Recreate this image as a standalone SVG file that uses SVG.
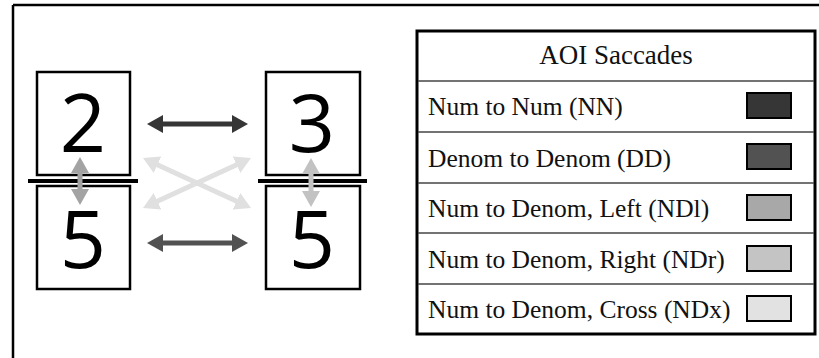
<svg xmlns="http://www.w3.org/2000/svg" width="819" height="358" viewBox="0 0 819 358">
<style>
.box{fill:#fff;stroke:#000;stroke-width:2.5}
.bar{stroke:#000;stroke-width:4}
.digit{font-family:"Open Sans","Noto Sans",sans-serif;font-size:81px;fill:#000;text-anchor:middle}
.lbl{font-family:"Liberation Serif","Times New Roman",serif;font-size:25.5px;fill:#111}
.hdr{font-family:"Liberation Serif","Times New Roman",serif;font-size:27px;fill:#111;text-anchor:middle}
.sep{stroke:#444;stroke-width:1.5}
.sw{stroke:#000;stroke-width:2}
.arr{stroke-width:5;fill:none}
</style>
<defs>
<marker id="mNN" markerUnits="userSpaceOnUse" markerWidth="16" markerHeight="18" refX="2" refY="9" orient="auto-start-reverse"><path d="M0,0 L16,9 L0,18 z" fill="#363636"/></marker>
<marker id="mDD" markerUnits="userSpaceOnUse" markerWidth="16" markerHeight="18" refX="2" refY="9" orient="auto-start-reverse"><path d="M0,0 L16,9 L0,18 z" fill="#525252"/></marker>
<marker id="mNDl" markerUnits="userSpaceOnUse" markerWidth="16" markerHeight="18" refX="2" refY="9" orient="auto-start-reverse"><path d="M0,0 L16,9 L0,18 z" fill="#a3a3a3"/></marker>
<marker id="mNDr" markerUnits="userSpaceOnUse" markerWidth="16" markerHeight="18" refX="2" refY="9" orient="auto-start-reverse"><path d="M0,0 L16,9 L0,18 z" fill="#c2c2c2"/></marker>
<marker id="mNDx" markerUnits="userSpaceOnUse" markerWidth="16" markerHeight="18" refX="2" refY="9" orient="auto-start-reverse"><path d="M0,0 L16,9 L0,18 z" fill="#e0e0e0"/></marker>
</defs>
<rect width="819" height="358" fill="#fff"/>
<g id="frame" stroke="#000" stroke-width="2.5">
<line x1="13" y1="5" x2="819" y2="5"/>
<line x1="13" y1="5" x2="13" y2="358"/>
</g>
<g id="num-left"><rect class="box" x="37" y="72" width="93" height="103"/><text class="digit" x="83" y="152">2</text></g>
<g id="den-left"><rect class="box" x="37" y="186" width="93" height="103"/><text class="digit" x="83" y="268">5</text></g>
<g id="bar-left"><line class="bar" x1="28" y1="181" x2="138" y2="181"/></g>
<g id="num-right"><rect class="box" x="266" y="72" width="94" height="103"/><text class="digit" x="312" y="152">3</text></g>
<g id="den-right"><rect class="box" x="266" y="186" width="94" height="103"/><text class="digit" x="312" y="268">5</text></g>
<g id="bar-right"><line class="bar" x1="258" y1="181" x2="367" y2="181"/></g>
<g id="connectors">
<line class="arr" stroke="#e0e0e0" x1="155.7" y1="163.9" x2="238.3" y2="202.1" marker-start="url(#mNDx)" marker-end="url(#mNDx)"/>
<line class="arr" stroke="#e0e0e0" x1="155.7" y1="202.1" x2="238.3" y2="163.9" marker-start="url(#mNDx)" marker-end="url(#mNDx)"/>
<line class="arr" stroke="#363636" x1="161" y1="124" x2="234" y2="124" marker-start="url(#mNN)" marker-end="url(#mNN)"/>
<line class="arr" stroke="#525252" x1="161" y1="243" x2="234" y2="243" marker-start="url(#mDD)" marker-end="url(#mDD)"/>
<line class="arr" stroke="#a3a3a3" x1="80" y1="171" x2="80" y2="191" marker-start="url(#mNDl)" marker-end="url(#mNDl)"/>
<line class="arr" stroke="#c2c2c2" x1="311" y1="172" x2="311" y2="193" marker-start="url(#mNDr)" marker-end="url(#mNDr)"/>
</g>
<g id="legend">
<rect x="417" y="31" width="398" height="303" fill="#fff" stroke="#000" stroke-width="3"/>
<line class="sep" x1="418" y1="81" x2="814" y2="81"/>
<line class="sep" x1="418" y1="132" x2="814" y2="132"/>
<line class="sep" x1="418" y1="183" x2="814" y2="183"/>
<line class="sep" x1="418" y1="233" x2="814" y2="233"/>
<line class="sep" x1="418" y1="284" x2="814" y2="284"/>
<text class="hdr" x="616" y="64">AOI Saccades</text>
<text class="lbl" x="428" y="115">Num to Num (NN)</text>
<text class="lbl" x="428" y="167">Denom to Denom (DD)</text>
<text class="lbl" x="428" y="217">Num to Denom, Left (NDl)</text>
<text class="lbl" x="428" y="268">Num to Denom, Right (NDr)</text>
<text class="lbl" x="428" y="318">Num to Denom, Cross (NDx)</text>
<rect class="sw" x="747" y="93" width="44" height="25" fill="#363636"/>
<rect class="sw" x="747" y="144" width="44" height="25" fill="#525252"/>
<rect class="sw" x="747" y="195" width="44" height="25" fill="#a8a8a8"/>
<rect class="sw" x="747" y="246" width="44" height="25" fill="#c4c4c4"/>
<rect class="sw" x="747" y="296" width="44" height="25" fill="#e2e2e2"/>
</g>
</svg>
